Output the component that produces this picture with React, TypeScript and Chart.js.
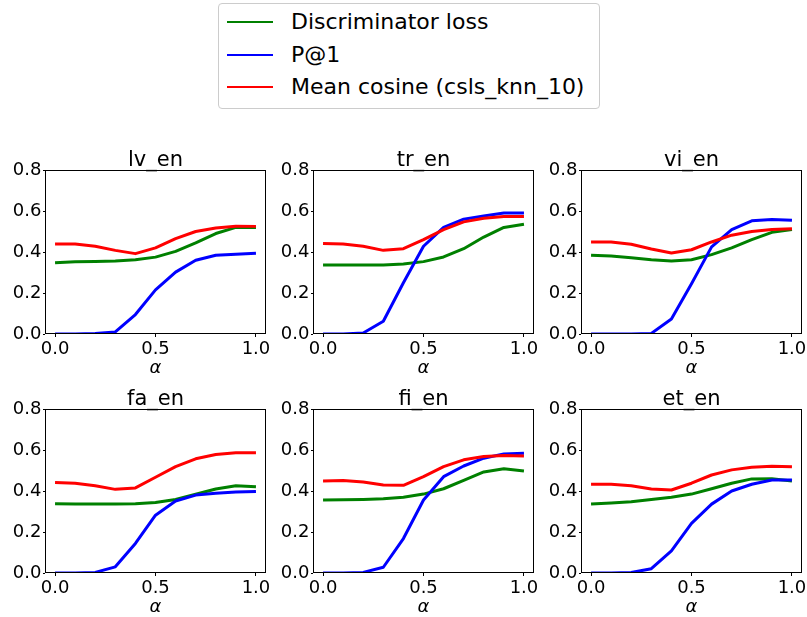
import React, { useEffect, useRef } from "react";
import { Chart, registerables } from "chart.js";

Chart.register(...registerables);

// ---------------- data ----------------
const alphas = [0, 0.1, 0.2, 0.3, 0.4, 0.5, 0.6, 0.7, 0.8, 0.9, 1.0];
const seriesLabels = ["Discriminator loss", "P@1", "Mean cosine (csls_knn_10)"];
const panelTitles = ["lv_en", "tr_en", "vi_en", "fa_en", "fi_en", "et_en"];
const yTicks = [0, 0.2, 0.4, 0.6, 0.8];
const xTicks = [0, 0.5, 1.0];
const xAxisLabel = "α";

const lvDisc = [0.348, 0.352, 0.354, 0.356, 0.362, 0.375, 0.403, 0.444, 0.49, 0.52, 0.52];
const lvP1 = [0, 0, 0.002, 0.01, 0.095, 0.215, 0.302, 0.36, 0.384, 0.389, 0.394];
const lvCos = [0.439, 0.439, 0.428, 0.408, 0.392, 0.42, 0.465, 0.5, 0.517, 0.526, 0.525];

const trDisc = [0.336, 0.336, 0.336, 0.337, 0.341, 0.353, 0.376, 0.416, 0.473, 0.52, 0.535];
const trP1 = [0, 0, 0.005, 0.062, 0.25, 0.428, 0.52, 0.56, 0.576, 0.59, 0.59];
const trCos = [0.441, 0.439, 0.428, 0.408, 0.416, 0.46, 0.509, 0.547, 0.565, 0.573, 0.573];

const viDisc = [0.384, 0.38, 0.372, 0.362, 0.356, 0.362, 0.387, 0.42, 0.46, 0.496, 0.51];
const viP1 = [0, 0, 0, 0.003, 0.073, 0.245, 0.425, 0.509, 0.552, 0.558, 0.555];
const viCos = [0.449, 0.449, 0.438, 0.415, 0.395, 0.411, 0.449, 0.482, 0.5, 0.51, 0.513];

const faDisc = [0.338, 0.337, 0.336, 0.336, 0.338, 0.344, 0.359, 0.384, 0.41, 0.426, 0.421];
const faP1 = [0, 0, 0.003, 0.03, 0.144, 0.282, 0.351, 0.38, 0.389, 0.395, 0.398];
const faCos = [0.441, 0.438, 0.426, 0.408, 0.415, 0.467, 0.519, 0.557, 0.578, 0.586, 0.586];

const fiDisc = [0.356, 0.357, 0.359, 0.362, 0.37, 0.385, 0.411, 0.452, 0.493, 0.509, 0.498];
const fiP1 = [0, 0, 0.003, 0.028, 0.168, 0.356, 0.47, 0.522, 0.56, 0.581, 0.584];
const fiCos = [0.449, 0.451, 0.444, 0.429, 0.428, 0.47, 0.519, 0.552, 0.568, 0.573, 0.571];

const etDisc = [0.336, 0.341, 0.348, 0.358, 0.369, 0.385, 0.411, 0.438, 0.459, 0.46, 0.449];
const etP1 = [0, 0, 0.002, 0.021, 0.108, 0.242, 0.336, 0.4, 0.433, 0.454, 0.454];
const etCos = [0.433, 0.433, 0.426, 0.41, 0.405, 0.438, 0.478, 0.503, 0.516, 0.521, 0.518];

const panelData = [
  [lvDisc, lvP1, lvCos],
  [trDisc, trP1, trCos],
  [viDisc, viP1, viCos],
  [faDisc, faP1, faCos],
  [fiDisc, fiP1, fiCos],
  [etDisc, etP1, etCos],
];

// ---------------- styles / layout ----------------
const COLORS = ["#008000", "#0000ff", "#ff0000"];
const FONT = "'DejaVu Sans', 'Liberation Sans', sans-serif";
const PLOT_LEFTS = [45, 313, 581];
const PLOT_W = 221;
const ROW_TOPS = [169.5, 409];
const PLOT_H = 164;
const PADL = 50;
const PADT = 40;
const PADR = 24;
const PADB = 48;

const boxPlugin = {
  id: "axesBox",
  afterDatasetsDraw(chart: any) {
    const { ctx, chartArea } = chart;
    ctx.save();
    ctx.strokeStyle = "#000";
    ctx.lineWidth = 1;
    ctx.strokeRect(
      Math.round(chartArea.left) + 0.5,
      Math.round(chartArea.top) + 0.5,
      Math.round(chartArea.right - chartArea.left) - 1,
      Math.round(chartArea.bottom - chartArea.top) - 1
    );
    ctx.restore();
  },
};

function Panel({ index }: { index: number }) {
  const ref = useRef<HTMLCanvasElement | null>(null);
  const col = index % 3;
  const row = Math.floor(index / 3);
  const L = PLOT_LEFTS[col];
  const T = ROW_TOPS[row];
  const width = PLOT_W + PADL + PADR;
  const height = PLOT_H + PADT + PADB;

  useEffect(() => {
    if (!ref.current) return;
    const series = panelData[index];
    const chart = new Chart(ref.current, {
      type: "line",
      data: {
        datasets: series.map((vals, si) => ({
          label: seriesLabels[si],
          data: alphas.map((a, i) => ({ x: a, y: vals[i] })),
          borderColor: COLORS[si],
          backgroundColor: COLORS[si],
          borderWidth: 3,
          pointRadius: 0,
          pointHoverRadius: 0,
          tension: 0,
          fill: false,
          borderJoinStyle: "round" as const,
          order: 2 - si,
        })),
      },
      options: {
        animation: false,
        responsive: false,
        maintainAspectRatio: false,
        devicePixelRatio: 1,
        layout: { autoPadding: false, padding: { left: 0, top: 0, right: PADR, bottom: 0 } },
        plugins: {
          legend: { display: false },
          tooltip: { enabled: false },
          title: {
            display: true,
            text: panelTitles[index],
            fullSize: false,
            color: "#000",
            font: { family: FONT, size: 21, weight: "normal", lineHeight: 0.8 },
            padding: { top: PADT - 21 * 0.8 - 0.6, bottom: 0.6 },
          },
        },
        scales: {
          x: {
            type: "linear",
            min: -0.05,
            max: 1.05,
            afterBuildTicks: (scale: any) => {
              scale.ticks = xTicks.map((v) => ({ value: v }));
            },
            afterFit: (scale: any) => {
              scale.height = PADB;
            },
            ticks: {
              color: "#000",
              font: { family: FONT, size: 18 },
              padding: 2,
              maxRotation: 0,
              autoSkip: false,
              callback: (v: any) => Number(v).toFixed(1),
            },
            grid: { display: true, drawOnChartArea: false, drawTicks: true, tickLength: 3, color: "#000" },
            border: { display: false },
            title: {
              display: true,
              text: xAxisLabel,
              color: "#000",
              font: { family: FONT, size: 18, style: "italic", lineHeight: 1.2 },
              padding: { top: 0, bottom: 3 },
            },
          },
          y: {
            type: "linear",
            min: 0,
            max: 0.8,
            afterBuildTicks: (scale: any) => {
              scale.ticks = yTicks.map((v) => ({ value: v }));
            },
            afterFit: (scale: any) => {
              scale.width = PADL;
            },
            ticks: {
              color: "#000",
              font: { family: FONT, size: 18 },
              padding: 1.5,
              autoSkip: false,
              callback: (v: any) => Number(v).toFixed(1),
            },
            grid: { display: true, drawOnChartArea: false, drawTicks: true, tickLength: 2, color: "#000" },
            border: { display: false },
          },
        },
      },
      plugins: [boxPlugin],
    } as any);
    return () => chart.destroy();
  }, [index]);

  return (
    <canvas
      ref={ref}
      width={width}
      height={height}
      style={{ position: "absolute", left: L - PADL, top: T - PADT, width, height }}
    />
  );
}

const LEGEND_ROW_TOPS = [2, 35, 67];

function Legend() {
  return (
    <div
      style={{
        position: "absolute",
        left: 218,
        top: 3,
        width: 380,
        height: 104,
        border: "1px solid #cccccc",
        borderRadius: 4,
        background: "#fff",
        fontFamily: FONT,
        fontSize: 22,
        color: "#000",
      }}
    >
      {seriesLabels.map((lab, i) => (
        <div
          key={lab}
          style={{
            position: "absolute",
            left: 0,
            top: LEGEND_ROW_TOPS[i],
            height: 32,
            width: 380,
            whiteSpace: "nowrap",
          }}
        >
          <div
            style={{
              position: "absolute",
              left: 8,
              top: 15,
              width: 46,
              height: 2,
              background: COLORS[i],
            }}
          />
          <div style={{ position: "absolute", left: 72, top: 0, lineHeight: "32px" }}>{lab}</div>
        </div>
      ))}
    </div>
  );
}

export default function App() {
  return (
    <div style={{ position: "absolute", left: 0, top: 0, width: 807, height: 617, background: "#fff", overflow: "hidden" }}>
      <Legend />
      {panelTitles.map((t, i) => (
        <Panel key={t} index={i} />
      ))}
    </div>
  );
}
